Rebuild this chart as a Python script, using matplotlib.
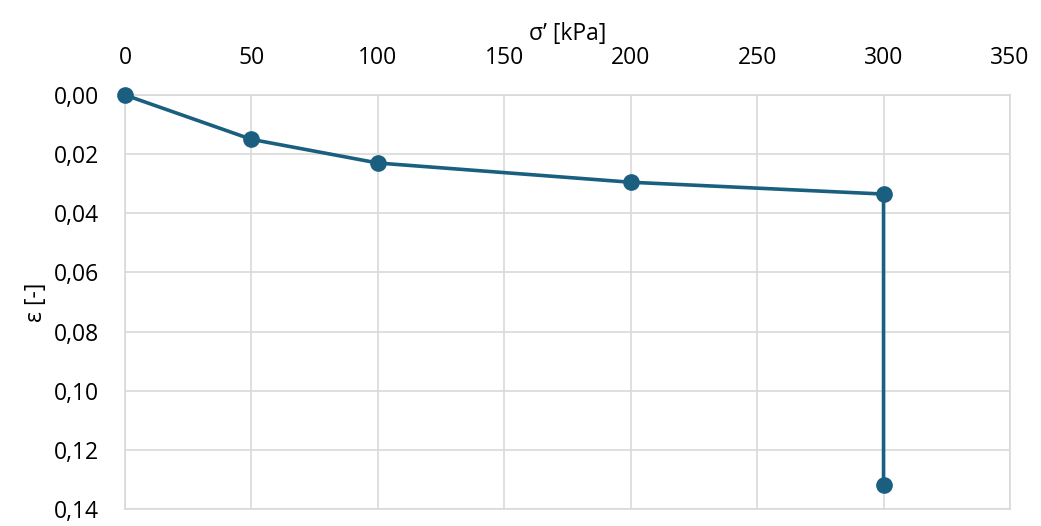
import matplotlib
matplotlib.use("Agg")
import matplotlib.pyplot as plt
from matplotlib.ticker import FuncFormatter, MultipleLocator

# consolidation curve: effective stress vs strain
stress = [0, 50, 100, 200, 300, 300]
strain = [0.0, 0.015, 0.023, 0.0295, 0.0335, 0.132]

plt.rcParams['font.family'] = ['Open Sans', 'DejaVu Sans']

fig = plt.figure(figsize=(10.41, 5.26), dpi=100)
ax = fig.add_axes([0.1201, 0.0323, 0.8501, 0.7871])

ax.plot(stress, strain, color="#1a5f80", lw=2.6, marker="o", ms=11, zorder=3, clip_on=False)

ax.set_xlim(0, 350)
ax.set_ylim(0.14, 0)
ax.xaxis.set_major_locator(MultipleLocator(50))
ax.yaxis.set_major_locator(MultipleLocator(0.02))
ax.yaxis.set_major_formatter(FuncFormatter(lambda v, p: f"{v:.2f}".replace(".", ",")))
ax.xaxis.tick_top()
ax.xaxis.set_label_position("top")
ax.set_xlabel("σ’ [kPa]", fontsize=16.5, labelpad=4)
ax.set_ylabel("ε [-]", fontsize=16.5, labelpad=4)
ax.tick_params(axis="y", length=0, labelsize=16.5, pad=19)
ax.tick_params(axis="x", length=0, labelsize=16.5, pad=18)
ax.grid(True, color="#d9d9d9", lw=1.2)
ax.set_axisbelow(True)
for s in ax.spines.values():
    s.set_color("#d9d9d9")
    s.set_linewidth(1.2)

fig.savefig("out.png", dpi=100)
